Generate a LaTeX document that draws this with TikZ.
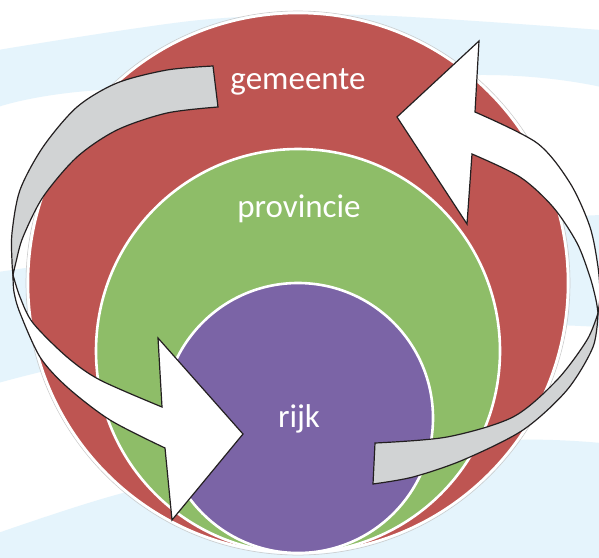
\documentclass[tikz,border=0pt]{standalone}
\usepackage{fontspec}
\setmainfont{Carlito}
\definecolor{bgblue}{HTML}{E5F4FC}
\definecolor{gemred}{HTML}{BE5552}
\definecolor{provgreen}{HTML}{8EBD68}
\definecolor{rijkpurple}{HTML}{7B64A6}
\definecolor{ribbongray}{HTML}{D1D3D4}
\definecolor{arrowline}{HTML}{231F20}
\tikzset{
  band/.style={fill=bgblue},
  ring/.style={draw=white, line width=2.6pt},
  lbl/.style={text=white, font=\fontsize{33}{40}\selectfont, anchor=base, inner sep=0pt},
  ribbon/.style={fill=#1, draw=arrowline, line width=1.2pt, line join=miter},
}
\begin{document}
\begin{tikzpicture}[x=1pt,y=-1pt]
\useasboundingbox (0,0) rectangle (599,557);
\fill[white] (0,0) rectangle (599,557);
% background swooshes
\path[band] plot[smooth] coordinates {(-2,50) (200,20) (367,15) (601,30)}
  -- plot[smooth] coordinates {(601,87) (480,75) (100,90) (-2,107)} -- cycle;
\path[band] plot[smooth] coordinates {(-2,272) (300,232) (601,215)}
  -- plot[smooth] coordinates {(601,327) (450,325) (150,350) (-2,383)} -- cycle;
\path[band] plot[smooth] coordinates {(-2,533) (123,493) (300,455) (513,440) (601,443)}
  -- (601,559) -- (-2,559) -- cycle;
% circles
\coordinate (cred) at (298,283);
\coordinate (cgreen) at (298,351);
\coordinate (cpurple) at (298,418);
\draw[gray!40, line width=0.6pt] (cred) circle[radius=272pt];
\path[ring, fill=gemred] (cred) circle[radius=270pt];
\path[ring, fill=provgreen] (cgreen) circle[radius=202pt];
\path[ring, fill=rijkpurple] (cpurple) circle[radius=135pt];
% labels
\node[lbl] (gem) at (298,89) {gemeente};
\node[lbl] (prov) at (299,217) {provincie};
\node[lbl] (rijk) at (299,427) {rijk};
% left ribbon arrow: grey back part
\path[ribbon=ribbongray] plot[smooth] coordinates {(213,66) (167,70) (117,83) (77,107) (43,147) (20,190) (12,233) (12,262) (13,275)}
  -- plot[smooth] coordinates {(13,275) (16,262) (23,237) (43,197) (77,157) (117,130) (167,113) (218,107)} -- cycle;
% left ribbon arrow: white front part with head
\path[ribbon=white] plot[smooth] coordinates {(13,275) (14,292) (20,313) (40,357) (67,387) (110,420) (165,448)}
  -- (172,520) -- (243,434) -- (158,338)
  -- plot[smooth] coordinates {(162,407) (100,380) (67,357) (33,323) (20,297) (13,275)} -- cycle;
% right ribbon arrow: white front part with head
\path[ribbon=white] plot[smooth] coordinates {(475,112) (537,143) (570,183) (590,227) (598,267) (600,295) (598,313)}
  -- plot[smooth] coordinates {(598,313) (596,300) (590,277) (577,243) (553,207) (520,177) (472,154)}
  -- (467,224) -- (397,117) -- (479,41) -- cycle;
% right ribbon arrow: grey back part
\path[ribbon=ribbongray] plot[smooth] coordinates {(598,313) (593,347) (567,390) (523,430) (463,460) (413,477) (373,484)}
  -- plot[smooth] coordinates {(375,443) (447,437) (513,417) (557,380) (587,340) (598,313)} -- cycle;
\end{tikzpicture}
\end{document}
